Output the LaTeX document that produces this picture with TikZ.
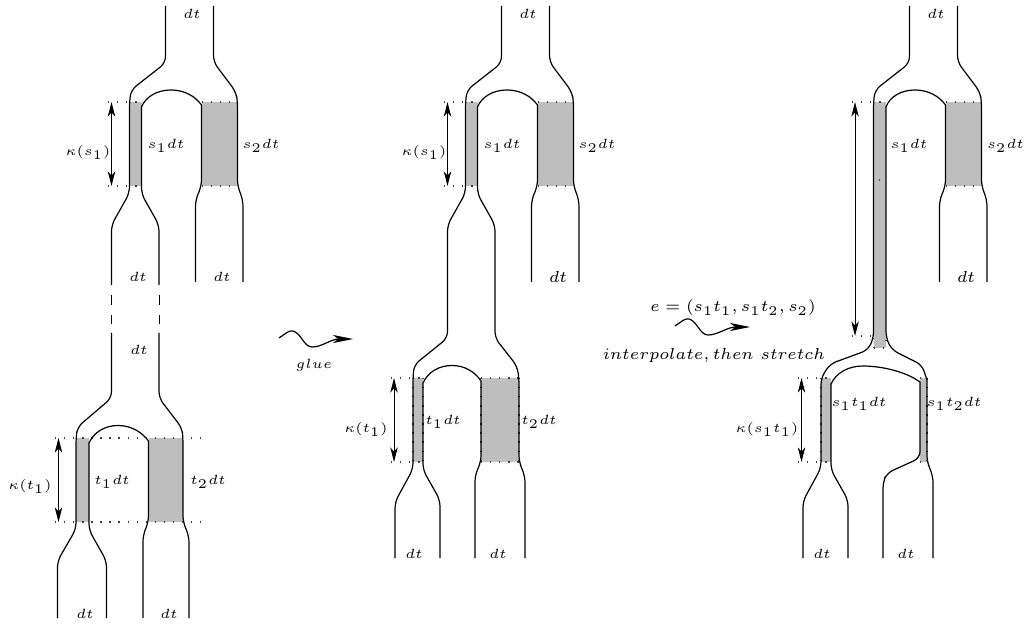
\documentclass[tikz,border=0pt]{standalone}
\usetikzlibrary{arrows.meta}
\definecolor{bandgrey}{HTML}{BEBEBE}
\tikzset{
  pipe/.style={line width=0.45pt,black,rounded corners=2.4pt},
  archline/.style={line width=0.45pt,black,line cap=round},
  band/.style={fill=bandgrey,draw=none},
  dots/.style={line width=0.4pt,black!75,dash pattern=on 0.5pt off 2.9pt},
  measure/.style={line width=0.35pt,black,{Stealth[length=5.5pt,width=2.8pt,inset=1.6pt]}-{Stealth[length=5.5pt,width=2.8pt,inset=1.6pt]}},
  squig/.style={line width=0.45pt,black,-{Stealth[length=7.5pt,width=3pt,inset=2pt]}},
  lab/.style={inner sep=0pt,font=\tiny},
  biglab/.style={inner sep=0pt,font=\fontsize{6.2}{7}\selectfont},
}
\begin{document}
\begin{tikzpicture}[x=0.375pt,y=-0.375pt]
\useasboundingbox (0,0) rectangle (1029,626);

% ---------- left column, upper
\fill[band] (129.5,102) rectangle (141.5,186);
\fill[band] (201.5,102) rectangle (237.5,186);
\draw[dots] (108,102) -- (141.5,102);
\draw[dots] (108,186) -- (141.5,186);
\draw[dots] (201.5,102) -- (237.5,102);
\draw[dots] (201.5,186) -- (237.5,186);
\draw[pipe] (165.5,6) -- (165.5,63) -- (131,90) -- (129.5,102) -- (129.5,193) -- (111.5,225) -- (111.5,285);
\draw[pipe] (159,285) -- (159,225) -- (141.5,194) -- (141.5,107);
\draw[archline] (141.5,107) .. controls (146,96) and (158,90) .. (171,90) .. controls (184,90) and (195,96) .. (201.5,105);
\draw[pipe] (201.5,105) -- (201.5,186) -- (195.5,200) -- (195.5,282);
\draw[pipe] (213.5,6) -- (213.5,62) -- (236,92) -- (237.5,102) -- (237.5,186) -- (243,200) -- (243,282);
\coordinate (a1t) at (111.5,102); \coordinate (a1b) at (111.5,186);
\draw[measure] (a1t) -- (a1b);
\node[lab] (l1) at (192,14) {$dt$};
\node[lab] (l2) at (166,146) {$s_1dt$};
\node[lab] (l3) at (261,146) {$s_2dt$};
\node[lab] (l4) at (88,153) {$\kappa(s_1)$};
\node[lab] (l5) at (138,277) {$dt$};
\node[lab] (l6) at (222,277) {$dt$};
% dashes
\draw[line width=0.45pt] (111.5,295) -- (111.5,305) (111.5,315) -- (111.5,324);
\draw[line width=0.45pt] (159.4,295) -- (159.4,305) (159.4,315) -- (159.4,324);

% ---------- left column, lower
\fill[band] (76,438) rectangle (89,522);
\fill[band] (149,438) rectangle (183,522);
\draw[dots] (55,438) -- (203,438);
\draw[dots] (55,522) -- (203,522);
\draw[pipe] (111.5,333) -- (111.5,398) -- (77.5,427) -- (76,438) -- (76,529) -- (57.5,561) -- (57.5,618);
\draw[pipe] (106.5,618) -- (106.5,561) -- (89,530) -- (89,443);
\draw[archline] (89,443) .. controls (94,432) and (105,425.5) .. (118,425.5) .. controls (131,425.5) and (142,432) .. (148.5,441);
\draw[pipe] (148.5,441) -- (148.5,522) -- (143,535) -- (143,618);
\draw[pipe] (159,333) -- (159,398) -- (182,428) -- (183,438) -- (183,522) -- (189,536) -- (189,618);
\coordinate (a2t) at (58.5,438); \coordinate (a2b) at (58.5,522);
\draw[measure] (a2t) -- (a2b);
\node[lab] (l7) at (139,350) {$dt$};
\node[lab] (l8) at (112,482) {$t_1dt$};
\node[lab] (l9) at (208,482) {$t_2dt$};
\node[lab] (l10) at (30,486) {$\kappa(t_1)$};
\node[lab] (l11) at (85,614) {$dt$};
\node[lab] (l12) at (169,614) {$dt$};

% ---------- glue arrow
\coordinate (g0) at (279,338); \coordinate (g1) at (353,339);
\draw[squig] (g0) .. controls (285,334) and (289,330) .. (293,331) .. controls (301,333) and (304,347) .. (312,347) .. controls (322,347) and (331,339) .. (g1);
\node[lab] (l13) at (314,365) {$glue$};

% ---------- middle column
\fill[band] (465.5,102) rectangle (477.5,186);
\fill[band] (537.5,102) rectangle (573.5,186);
\fill[band] (413,378) rectangle (423,462);
\fill[band] (481,378) rectangle (519,462);
\draw[dots] (444,102) -- (477.5,102);
\draw[dots] (444,186) -- (477.5,186);
\draw[dots] (537.5,102) -- (573.5,102);
\draw[dots] (537.5,186) -- (573.5,186);
\draw[dots] (391,378) -- (423,378);
\draw[dots] (391,462) -- (423,462);
\draw[dots] (481,378) -- (519,378);
\draw[dots] (481,462) -- (519,462);
\draw[dots] (413,378) -- (413,462);
\draw[dots] (423,378) -- (423,462);
\draw[dots] (481,378) -- (481,462);
\draw[dots] (519,378) -- (519,462);
\draw[pipe] (501.5,6) -- (501.5,63) -- (467,90) -- (465.5,102) -- (465.5,193) -- (447.5,225) -- (447.5,338) -- (414,365) -- (413,378) -- (413,469) -- (395,502) -- (395,558);
\draw[pipe] (525,558) -- (525,476) -- (519,462) -- (519,378) -- (517,366) -- (495,338) -- (495,225) -- (477.5,194) -- (477.5,107);
\draw[archline] (477.5,107) .. controls (482,96) and (494,90) .. (507,90) .. controls (520,90) and (531,96) .. (537.5,105);
\draw[pipe] (537.5,105) -- (537.5,186) -- (531.5,200) -- (531.5,282);
\draw[pipe] (549.5,6) -- (549.5,62) -- (572,92) -- (573.5,102) -- (573.5,186) -- (579,200) -- (579,282);
\draw[pipe] (440,558) -- (440,500) -- (423,470) -- (423,383);
\draw[archline] (423,383) .. controls (428,372) and (439,365.5) .. (452,365.5) .. controls (465,365.5) and (475,372) .. (481,381);
\draw[pipe] (481,381) -- (481,462) -- (475,475) -- (475,558);
\coordinate (a3t) at (447.5,102); \coordinate (a3b) at (447.5,186);
\draw[measure] (a3t) -- (a3b);
\coordinate (a4t) at (394,378); \coordinate (a4b) at (394,462);
\draw[measure] (a4t) -- (a4b);
\node[lab] (m1) at (528,14) {$dt$};
\node[lab] (m2) at (502,146) {$s_1dt$};
\node[lab] (m3) at (597,146) {$s_2dt$};
\node[lab] (m4) at (424,153) {$\kappa(s_1)$};
\node[biglab] (m5) at (558,277) {$dt$};
\node[lab] (m6) at (443,422) {$t_1dt$};
\node[lab] (m7) at (539,422) {$t_2dt$};
\node[lab] (m8) at (366,429) {$\kappa(t_1)$};
\node[lab] (m9) at (414,554) {$dt$};
\node[lab] (m10) at (498,554) {$dt$};

% ---------- right column, grey
\fill[band] (873.5,102) rectangle (886,348);
\fill[band] (945.5,102) rectangle (981.5,186);
\fill[band] (821,378) rectangle (831,462);
\fill[band] (920,378) rectangle (927,462);
\draw[dots] (852,102) -- (886,102);
\draw[dots] (945.5,102) -- (981.5,102);
\draw[dots] (945.5,186) -- (981.5,186);
\draw[dots] (852,336) -- (873.5,336);
\draw[dots] (873.5,348) -- (886,348);
\draw[dots] (873.5,102) -- (873.5,348);
\draw[dots] (886,340) -- (886,348);
\draw[dots] (798,378) -- (831,378);
\draw[dots] (798,462) -- (831,462);
\draw[dots] (821,378) -- (821,462);
\draw[dots] (920,378) -- (927,378);
\draw[dots] (920,462) -- (927,462);
\draw[dots] (927,378) -- (927,462);
\fill[black!75] (879.5,180) circle (0.3pt);
% ---------- right column, lines
\draw[pipe] (909.5,6) -- (909.5,63) -- (875,90) -- (873.5,102) -- (873.5,338) -- (868,350) -- (830,364) -- (821,378) -- (821,468) -- (803,501) -- (803,558);
\draw[pipe] (848,558) -- (848,500) -- (831,470) -- (831,384);
\draw[archline] (831,384) .. controls (836,373) and (848,366) .. (863,366) .. controls (880,366) and (905,371) .. (920,382);
\draw[pipe] (920,382) -- (920,458) -- (887,473) -- (883,482) -- (883,558);
\draw[pipe] (927,378) -- (927,462) -- (933,476) -- (933,558);
\draw[archline] (945.5,105) .. controls (939,96) and (928,90) .. (915,90) .. controls (902,90) and (890,96) .. (886,107);
\draw[pipe] (886,107) -- (886,338) -- (892,350) -- (922,365) -- (927,380);
\draw[pipe] (945.5,105) -- (945.5,186) -- (939.5,200) -- (939.5,282);
\draw[pipe] (957.5,6) -- (957.5,62) -- (980,92) -- (981.5,102) -- (981.5,186) -- (987,200) -- (987,282);
\coordinate (a5t) at (855,102); \coordinate (a5b) at (855,336);
\draw[measure] (a5t) -- (a5b);
\coordinate (a6t) at (801.5,378); \coordinate (a6b) at (801.5,462);
\draw[measure] (a6t) -- (a6b);
\node[lab] (r1) at (936,14) {$dt$};
\node[lab] (r2) at (909,146) {$s_1dt$};
\node[lab] (r3) at (1005.5,146) {$s_2dt$};
\node[biglab] (r4) at (966,277) {$dt$};
\node[lab] (r5) at (859,404) {$s_1t_1dt$};
\node[lab] (r6) at (954,404) {$s_1t_2dt$};
\node[lab] (r7) at (767,429) {$\kappa(s_1t_1)$};
\node[lab] (r8) at (822,554) {$dt$};
\node[lab] (r9) at (906,554) {$dt$};
\node[biglab] (r10) at (733,308) {$e=(s_1t_1,s_1t_2,s_2)$};
\coordinate (g2) at (675,326); \coordinate (g3) at (750,327);
\draw[squig] (g2) .. controls (681,322) and (685,318) .. (689,319) .. controls (697,321) and (700,335) .. (708,335) .. controls (718,335) and (727,327) .. (g3);
\node[biglab] (r11) at (714,355) {$interpolate,then\ stretch$};
\end{tikzpicture}
\end{document}
